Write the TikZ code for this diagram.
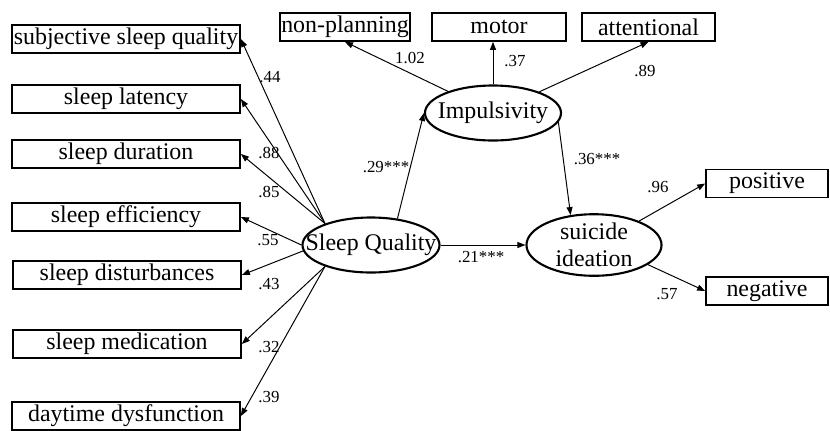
\documentclass[tikz,border=0pt]{standalone}
\usepackage{fontspec}
\setmainfont{Liberation Serif}
\usetikzlibrary{arrows.meta, shapes.geometric}

\tikzset{
  obs/.style={draw, line width=1.2pt, inner sep=0pt, minimum height=0.7cm,
              font=\fontsize{17}{20}\selectfont},
  latent/.style={draw, ellipse, line width=1.5pt, inner sep=0pt, align=center,
                 minimum width=3.425cm, minimum height=1.375cm,
                 font=\fontsize{17}{20}\selectfont},
  coef/.style={inner sep=0pt, font=\fontsize{12}{14}\selectfont},
  link/.style={-{Triangle[length=2mm, width=1.5mm]}, line width=0.7pt}
}

\begin{document}
\begin{tikzpicture}[x=0.025cm, y=-0.025cm]
  \useasboundingbox (0,0) rectangle (830,430);

  % indicators of sleep quality
  \node[obs, minimum width=5.7cm] (ssq)  at (126,39)  {subjective sleep quality};
  \node[obs, minimum width=5.7cm] (slat) at (126,99)  {sleep latency};
  \node[obs, minimum width=5.7cm] (sdur) at (126,154) {sleep duration};
  \node[obs, minimum width=5.7cm] (seff) at (126,217) {sleep efficiency};
  \node[obs, minimum width=5.7cm] (sdis) at (127,275) {sleep disturbances};
  \node[obs, minimum width=5.7cm] (smed) at (127,344) {sleep medication};
  \node[obs, minimum width=5.7cm] (sdys) at (126,416) {daytime dysfunction};

  % indicators of impulsivity
  \node[obs, minimum width=3.25cm]  (np)  at (345,27)   {non-planning};
  \node[obs, minimum width=3.35cm]  (mot) at (499,27)   {motor};
  \node[obs, minimum width=3.325cm] (att) at (648.5,27) {attentional};

  % indicators of suicide ideation
  \node[obs, minimum width=3.05cm] (pos) at (767,183.5) {positive};
  \node[obs, minimum width=3.05cm] (neg) at (767,291)   {negative};

  % latent variables (text boxes of zero width so the ellipse keeps its size)
  \node[latent] (sq)  at (371,245) {\makebox[0pt]{Sleep Quality}};
  \node[latent, minimum width=3.4cm] (imp) at (493,113) {\makebox[0pt]{Impulsivity}};
  \node[latent, minimum width=3.375cm, minimum height=1.4cm] (si) at (594,245)
       {\makebox[0pt]{suicide}\\[-1pt]\makebox[0pt]{ideation}};

  % loadings
  \draw[link] (sq.155) -- (ssq.east);
  \draw[link] (sq.155) -- (slat.east);
  \draw[link] (sq.155) -- (sdur.east);
  \draw[link] (sq.west) -- (seff.east);
  \draw[link] (sq.185) -- (sdis.east);
  \draw[link] (sq.205) -- (smed.east);
  \draw[link] (sq.205) -- (sdys.east);

  \draw[link] (imp) -- (np.south);
  \draw[link] (imp.north) -- (imp.north |- mot.south);
  \draw[link] (imp) -- (att.south);

  \draw[link] (si.28) -- (pos.west);
  \draw[link] (si.-20) -- (neg.west);

  % structural paths
  \draw[link] (sq.45) -- (imp.west);
  \draw[link] (imp.-8) -- (si.128);
  \draw[link] (sq.east) -- (si.west);

  % coefficients
  \node[coef] (c44) at (270,77)  {.44};
  \node[coef] (c88) at (269,153) {.88};
  \node[coef] (c85) at (269,192) {.85};
  \node[coef] (c55) at (268,240) {.55};
  \node[coef] (c43) at (269,284) {.43};
  \node[coef] (c32) at (269,347) {.32};
  \node[coef] (c39) at (269,397) {.39};
  \node[coef] (c102) at (410,58) {1.02};
  \node[coef] (c37) at (515,61)  {.37};
  \node[coef] (c89) at (645,71)  {.89};
  \node[coef] (c29) at (386,167) {.29***};
  \node[coef] (c36) at (597,159) {.36***};
  \node[coef] (c21) at (481,257) {.21***};
  \node[coef] (c96) at (658,187) {.96};
  \node[coef] (c57) at (667,294) {.57};
\end{tikzpicture}
\end{document}
